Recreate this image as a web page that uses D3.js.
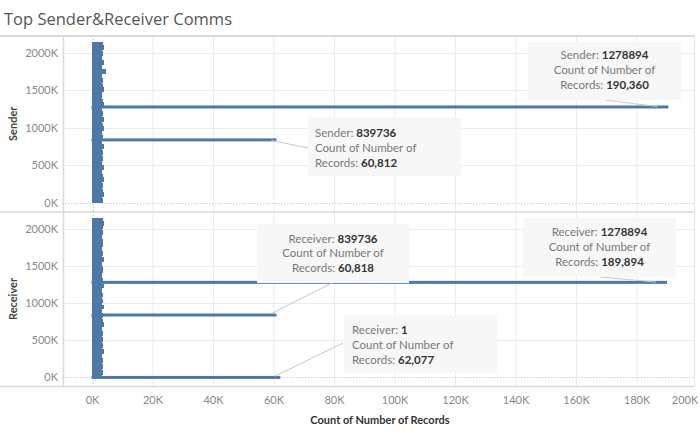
<!DOCTYPE html>
<html>
<head>
<meta charset="utf-8">
<script src="https://cdn.jsdelivr.net/npm/d3@7/dist/d3.min.js"></script>
<style>
  html, body { margin: 0; padding: 0; background: #fff; }
  svg { display: block; }
</style>
</head>
<body>
<div id="chart"></div>
<script>
// ---------------- DATA ----------------
const chartTitle = "Top Sender&Receiver Comms";
const xTickValues = [0, 20000, 40000, 60000, 80000, 100000, 120000, 140000, 160000, 180000, 200000];
const yTickValues = [0, 500000, 1000000, 1500000, 2000000];
const paneNames = ["Sender", "Receiver"];
const xAxisTitle = "Count of Number of Records";

// dense cluster of small bars (IDs in the blob)
const blobIds = [2110000, 2070000, 2030000, 1990000, 1950000, 1910000, 1870000, 1830000, 1790000, 1750000,
  1710000, 1670000, 1630000, 1590000, 1550000, 1510000, 1470000, 1430000, 1390000, 1350000,
  1310000, 1270000, 1230000, 1190000, 1150000, 1110000, 1070000, 1030000, 990000, 950000,
  910000, 870000, 830000, 790000, 750000, 710000, 670000, 630000, 590000, 550000,
  510000, 470000, 430000, 390000, 350000, 310000, 270000, 230000, 190000, 150000,
  110000, 70000, 30000];
const senderBlobCounts = [3400, 3700, 3300, 3600, 3100, 3200, 3700, 3000, 3300, 4400,
  3100, 3000, 3400, 3200, 3600, 3900, 3100, 3300, 3000, 3500,
  3800, 3200, 3000, 3600, 3300, 3700, 3100, 3400, 3900, 3200,
  3000, 3500, 3300, 3100, 3800, 3200, 3400, 3000, 3600, 3300,
  3100, 3700, 3200, 3000, 3500, 3900, 3100, 3400, 3200, 3600,
  3800, 3300, 3500];
const receiverBlobCounts = [3600, 3900, 3400, 3200, 3500, 3300, 3000, 3400, 3600, 3200,
  3100, 3500, 3300, 3700, 3200, 3000, 3400, 3600, 3100, 3300,
  3500, 3200, 3800, 3000, 3300, 3600, 3100, 3400, 3200, 3700,
  3000, 3300, 3500, 3100, 3400, 3800, 3200, 3000, 3500, 3300,
  3600, 3100, 3400, 3200, 3700, 3000, 3300, 3500, 3100, 3400,
  3200, 3600, 3300];

const senderTopIds = [1278894, 839736];
const senderTopCounts = [190360, 60812];
const receiverTopIds = [1278894, 839736, 1];
const receiverTopCounts = [189894, 60818, 62077];

// ---------------- LAYOUT ----------------
const W = 700, H = 434;
const barColor = "#4e79a7";
const fontFam = "Lato, 'Open Sans', sans-serif";
const plotLeft = 62.25, plotRight = 694.5;
const panes = [
  { top: 36, bottom: 211.5 },
  { top: 212, bottom: 386 }
];

const svg = d3.select("#chart").append("svg").attr("width", W).attr("height", H)
  .style("font-family", fontFam);

const x = d3.scaleLinear().domain([-10000, 199000]).range([plotLeft, plotRight]);

// title
svg.append("text").attr("x", 4).attr("y", 25)
  .attr("font-size", 16.5).attr("fill", "#555").attr("font-family", "'Open Sans', sans-serif")
  .text(chartTitle);

const paneData = [
  { name: paneNames[0], blob: senderBlobCounts, topIds: senderTopIds, topCounts: senderTopCounts },
  { name: paneNames[1], blob: receiverBlobCounts, topIds: receiverTopIds, topCounts: receiverTopCounts }
];

const yScales = [];
paneData.forEach((pd, i) => {
  const p = panes[i];
  const y = d3.scaleLinear().domain([-115000, 2225000]).range([p.bottom, p.top]);
  yScales.push(y);
  const g = svg.append("g");

  // vertical grid
  g.selectAll("line.vg").data(xTickValues.filter(v => v !== 0 && v <= 199000)).enter().append("line")
    .attr("x1", d => x(d)).attr("x2", d => x(d)).attr("y1", p.top).attr("y2", p.bottom)
    .attr("stroke", "#ececec").attr("stroke-width", 1);
  // horizontal grid
  g.selectAll("line.hg").data(yTickValues.filter(v => v !== 0)).enter().append("line")
    .attr("x1", plotLeft).attr("x2", plotRight).attr("y1", d => Math.round(y(d)) + 0.5).attr("y2", d => Math.round(y(d)) + 0.5)
    .attr("stroke", "#ececec").attr("stroke-width", 1);
  // zero lines dotted
  g.append("line").attr("x1", plotLeft).attr("x2", plotRight)
    .attr("y1", Math.round(y(0)) + 0.5).attr("y2", Math.round(y(0)) + 0.5)
    .attr("stroke", "#bbb").attr("stroke-dasharray", "1,2");
  g.append("line").attr("x1", Math.round(x(0)) + 0.5).attr("x2", Math.round(x(0)) + 0.5)
    .attr("y1", p.top).attr("y2", p.bottom)
    .attr("stroke", "#bbb").attr("stroke-dasharray", "1,2");

  // y tick labels
  g.selectAll("text.yt").data(yTickValues).enter().append("text")
    .attr("x", 58).attr("y", d => y(d) + 4)
    .attr("text-anchor", "end").attr("font-size", 11).attr("fill", "#888")
    .text(d => (d / 1000) + "K");

  // pane title (rotated)
  g.append("text")
    .attr("transform", `translate(${17},${(p.top + p.bottom) / 2}) rotate(-90)`)
    .attr("text-anchor", "middle").attr("font-size", 11).attr("font-weight", 700).attr("fill", "#444")
    .text(pd.name);

  // blob bars (overlapping so the cluster reads as one solid mass)
  g.selectAll("rect.blob").data(blobIds.map((id, k) => ({ id, c: pd.blob[k] }))).enter().append("rect")
    .attr("x", x(0) - 1).attr("y", d => y(d.id) - 2.3)
    .attr("width", d => x(d.c) - x(0) + 1).attr("height", 4.6)
    .attr("fill", barColor).attr("shape-rendering", "crispEdges");
  // top bars
  g.selectAll("rect.top").data(pd.topIds.map((id, k) => ({ id, c: pd.topCounts[k] }))).enter().append("rect")
    .attr("x", x(0) - 1).attr("y", d => y(d.id) - 1.5)
    .attr("width", d => x(d.c) - x(0) + 1).attr("height", 3)
    .attr("fill", barColor);
});

// frame lines
const frame = svg.append("g").attr("stroke", "#d9d9d9");
frame.append("line").attr("x1", 0).attr("x2", plotRight).attr("y1", 36).attr("y2", 36).attr("stroke-width", 2);
frame.append("line").attr("x1", 0).attr("x2", plotRight).attr("y1", 212).attr("y2", 212).attr("stroke-width", 1.5);
frame.append("line").attr("x1", 0).attr("x2", plotRight).attr("y1", 386.5).attr("y2", 386.5).attr("stroke-width", 1.5);
frame.append("line").attr("x1", 63.5).attr("x2", 63.5).attr("y1", 36).attr("y2", 387).attr("stroke-width", 1.5);
frame.append("line").attr("x1", plotRight).attr("x2", plotRight).attr("y1", 36).attr("y2", 386).attr("stroke", "#e6e6e6");

// x tick labels
svg.selectAll("text.xt").data(xTickValues).enter().append("text")
  .attr("x", d => Math.min(x(d), 685))
  .attr("y", 404).attr("text-anchor", "middle").attr("font-size", 11).attr("fill", "#888")
  .text(d => (d / 1000) + "K");

svg.append("text").attr("x", 380).attr("y", 424).attr("text-anchor", "middle")
  .attr("font-size", 11).attr("font-weight", 700).attr("fill", "#333").text(xAxisTitle);

// ---------------- ANNOTATIONS ----------------
const annotations = [
  { pane: 0, idx: 1, label: "Sender", box: [308, 117, 153, 59], align: "start", tx: 315, base: 137, line: [308, 148] },
  { pane: 0, idx: 0, label: "Sender", box: [528, 42, 153, 58], align: "middle", tx: 604.5, base: 59, line: [605, 100] },
  { pane: 1, idx: 1, label: "Receiver", box: [257, 224, 152, 59], align: "middle", tx: 333, base: 242.5, line: [332, 283] },
  { pane: 1, idx: 0, label: "Receiver", box: [523, 218, 153, 59], align: "middle", tx: 599.5, base: 236, line: [600, 277] },
  { pane: 1, idx: 2, label: "Receiver", box: [344, 315, 153, 58], align: "start", tx: 352, base: 334, line: [343, 343] }
];
const fmt = d3.format(",");
annotations.forEach(a => {
  const pd = paneData[a.pane];
  const y = yScales[a.pane];
  const id = pd.topIds[a.idx], c = pd.topCounts[a.idx];
  let endX = x(c) - 8, endY = y(id);
  const dx = a.line[0] - endX, dy = a.line[1] - endY, len = Math.hypot(dx, dy);
  endX = endX + dx / len * 3; endY = endY + dy / len * 3;
  svg.append("line").attr("x1", a.line[0]).attr("y1", a.line[1]).attr("x2", endX).attr("y2", endY)
    .attr("stroke", "#c8c8c8").attr("stroke-width", 1);
  svg.append("rect").attr("x", a.box[0]).attr("y", a.box[1]).attr("width", a.box[2]).attr("height", a.box[3])
    .attr("fill", "#f7f7f7");
  const lines = [
    [[a.label + ": ", "#777", 400], [String(id), "#333", 700]],
    [["Count of Number of", "#777", 400]],
    [["Records: ", "#777", 400], [fmt(c), "#333", 700]]
  ];
  lines.forEach((ln, k) => {
    const t = svg.append("text").attr("x", a.tx).attr("y", a.base + k * 14.8)
      .attr("text-anchor", a.align).attr("font-size", 11.5);
    ln.forEach(seg => t.append("tspan").attr("fill", seg[1]).attr("font-weight", seg[2]).text(seg[0]));
  });
});
</script>
</body>
</html>
